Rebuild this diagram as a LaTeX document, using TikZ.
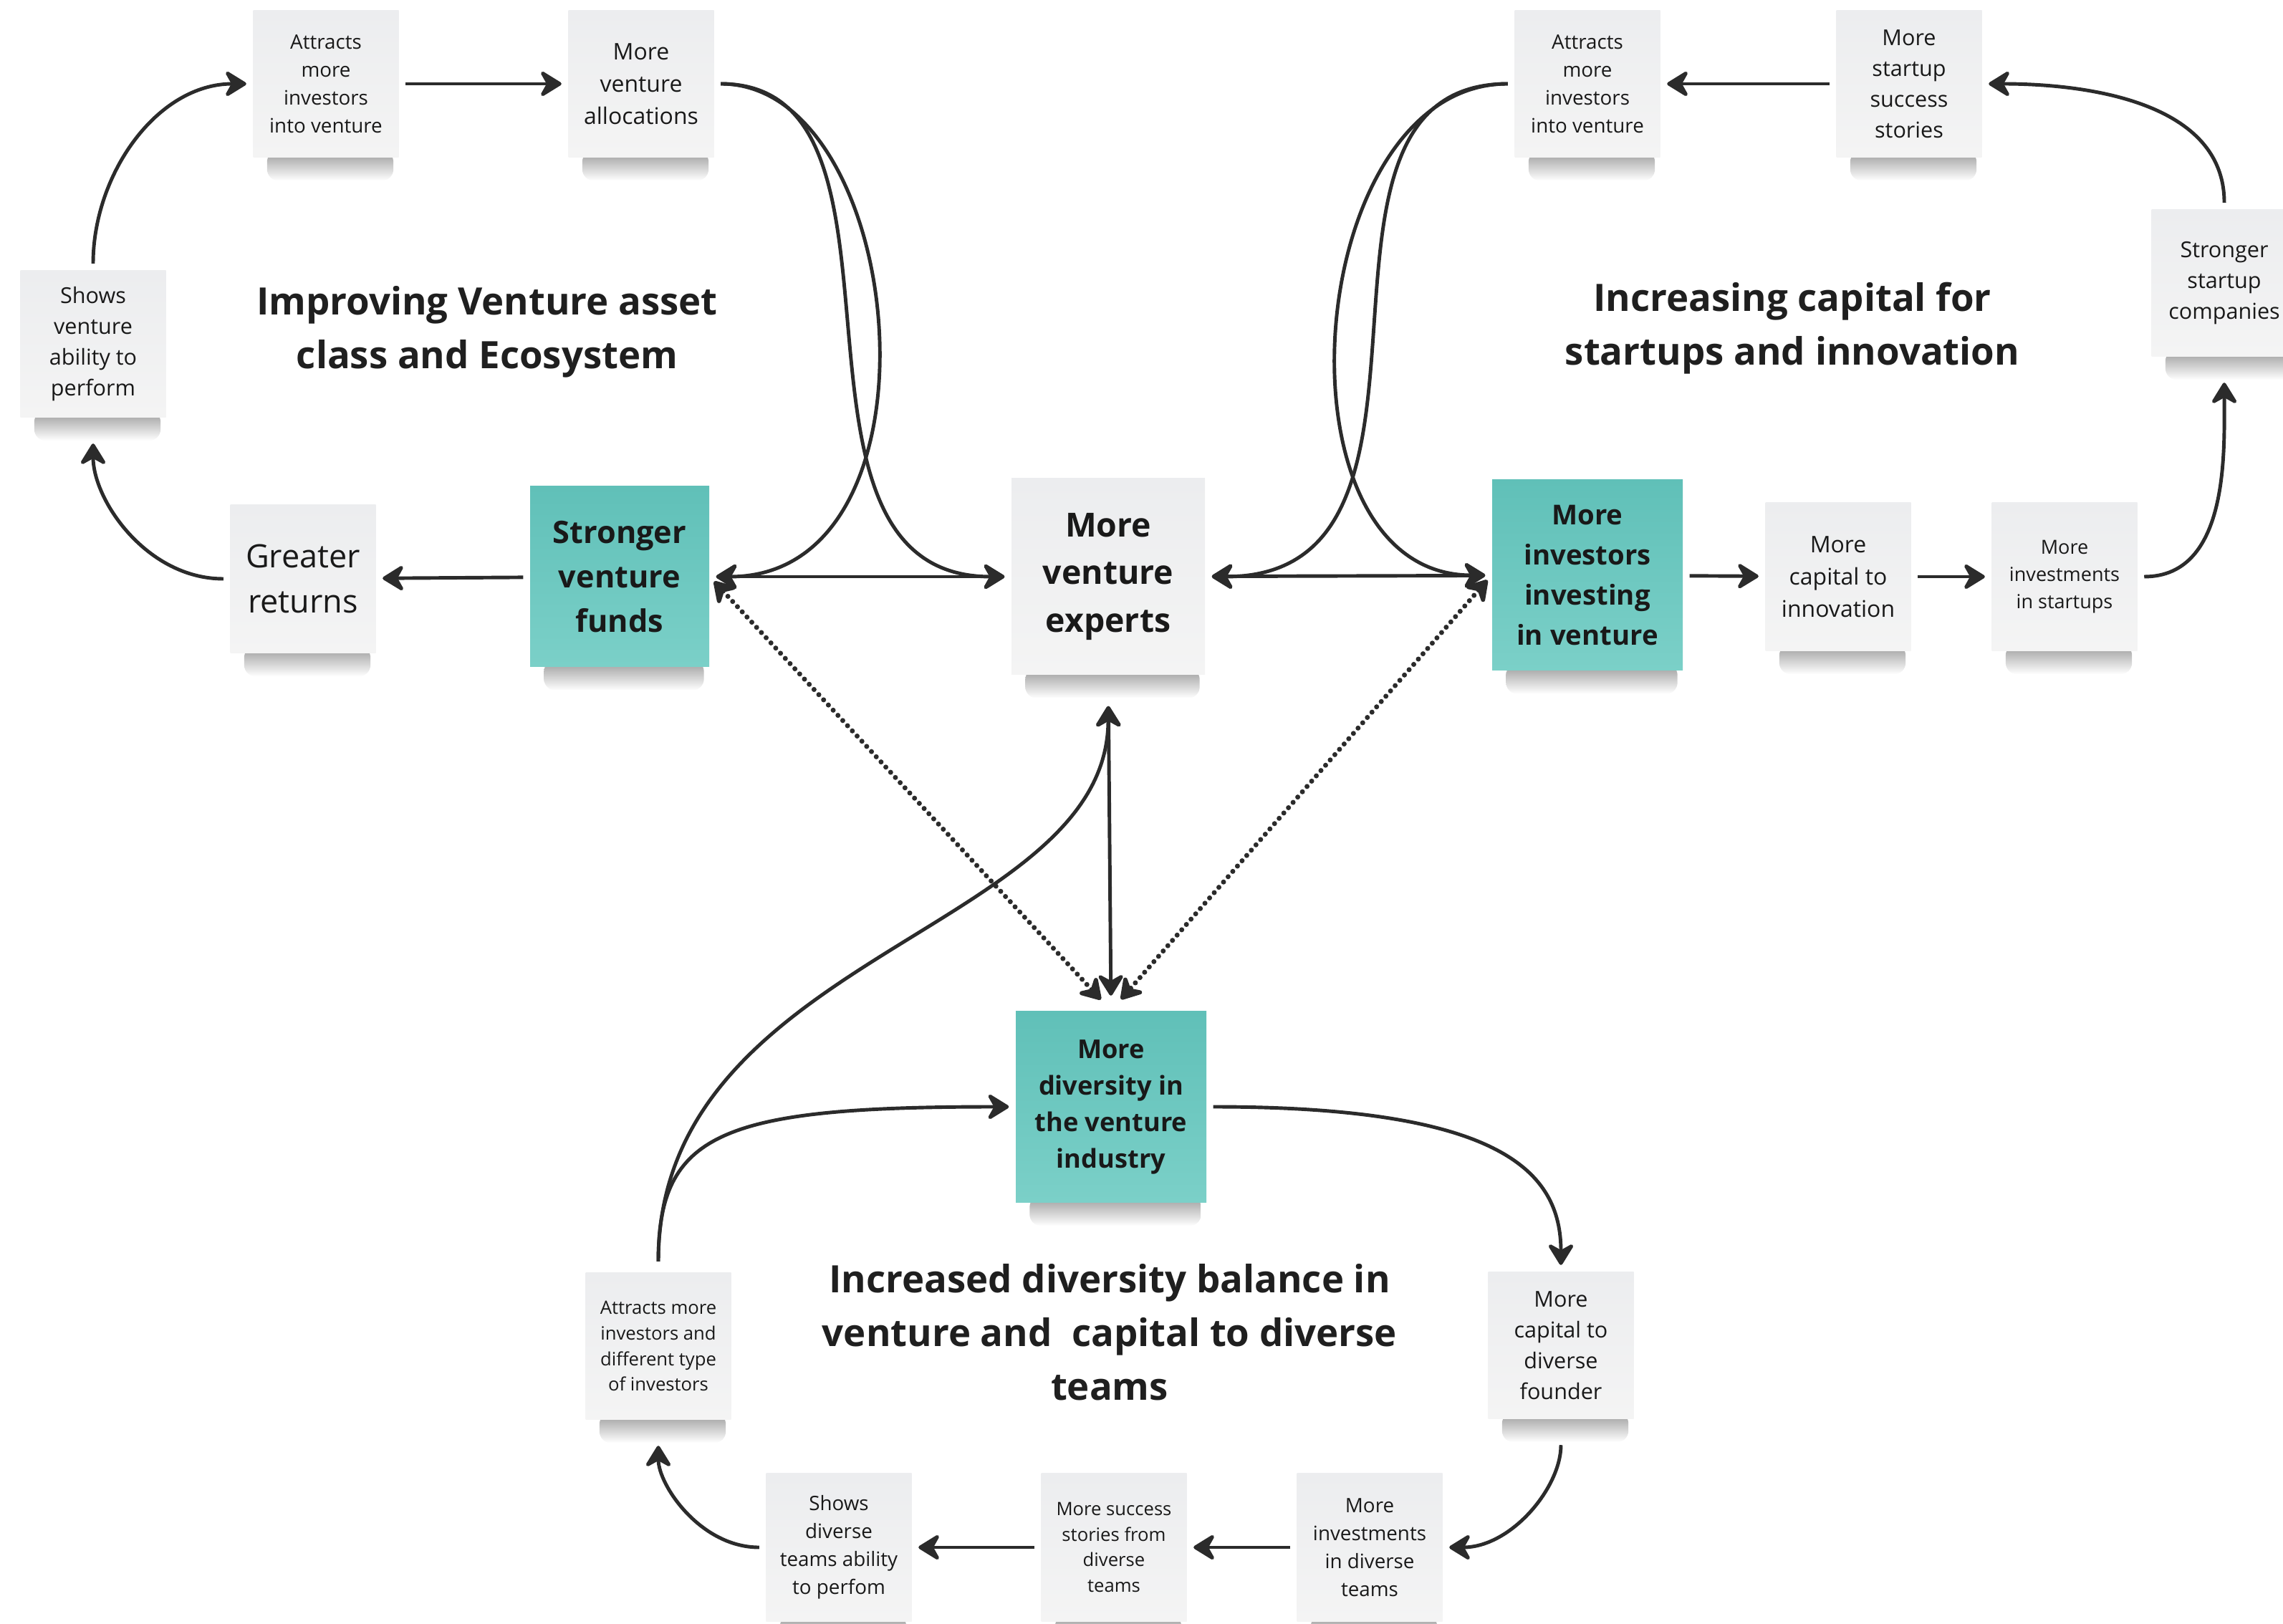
\documentclass[tikz,border=0pt]{standalone}
\usepackage{fontspec}
\setmainfont{Open Sans}
\usetikzlibrary{arrows.meta,calc}
\pgfdeclarelayer{background}
\pgfsetlayers{background,main}

\definecolor{teal1}{HTML}{60C0B8}
\definecolor{teal2}{HTML}{7BD0C8}
\definecolor{paper1}{HTML}{ECEDEF}
\definecolor{paper2}{HTML}{F4F4F4}
\definecolor{ink}{HTML}{2B2B2B}

\tikzset{
  note/.style={rectangle,top color=paper1,bottom color=paper2,minimum width=2.03cm,minimum height=2.05cm,
    align=center,inner sep=1pt,text=black!90},
  keynote/.style={note,top color=teal1,bottom color=teal2},
  fs/.style 2 args={font=\fontsize{#1}{#2}\selectfont},
  bfs/.style 2 args={font=\bfseries\fontsize{#1}{#2}\selectfont},
  heading/.style={align=center,font=\bfseries\fontsize{15}{21.3}\selectfont,text=black!88},
  link/.style={draw=ink,line width=1.4pt,shorten <=0.9mm,shorten >=0.9mm,->},
  hint/.style={draw=ink,line width=2pt,line cap=round,dash pattern=on 0pt off 2.8pt,<->,
    shorten <=0.9mm,shorten >=2.1mm}
}

\begin{document}
\begin{tikzpicture}[>={Stealth[length=3.5mm,width=4.3mm,inset=1.2mm,round]}]
  \useasboundingbox (0,0) rectangle (31.87,-22.67);

  % venture asset class loop
  \node[note,fs={7.9}{11.1}] (aTL) at (4.55,-1.17) {Attracts\\more\\investors\\into venture};
  \node[note,fs={9.1}{12.8}] (alloc) at (8.95,-1.17) {More\\venture\\allocations};
  \node[note,fs={8.7}{12.2}] (showsV) at (1.30,-4.80) {Shows\\venture\\ability to\\perform};
  \node[note,fs={12.8}{17.9},minimum height=2.07cm] (greater) at (4.23,-8.08) {Greater\\returns};
  \node[keynote,bfs={12.3}{17.6},minimum width=2.5cm,minimum height=2.52cm] (funds) at (8.65,-8.05) {Stronger\\venture\\funds};
  \node[note,bfs={13.2}{18.8},minimum width=2.7cm,minimum height=2.74cm] (experts) at (15.47,-8.05) {More\\venture\\experts};
  \node[heading] (tVenture) at (6.80,-4.63) {Improving Venture asset\\class and Ecosystem};

  % capital loop
  \node[note,fs={7.9}{11.1}] (aTR) at (22.16,-1.17) {Attracts\\more\\investors\\into venture};
  \node[note,fs={8.7}{12.2}] (stories) at (26.65,-1.17) {More\\startup\\success\\stories};
  \node[note,fs={8.7}{12.2}] (companies) at (31.05,-3.95) {Stronger\\startup\\companies};
  \node[keynote,bfs={10.9}{15.9},minimum width=2.66cm,minimum height=2.66cm] (investors) at (22.16,-8.03) {More\\investors\\investing\\in venture};
  \node[note,fs={9.1}{12.8},minimum height=2.07cm] (capInn) at (25.66,-8.05) {More\\capital to\\innovation};
  \node[note,fs={7.7}{10.9},minimum height=2.07cm] (invStart) at (28.82,-8.05) {More\\investments\\in startups};
  \node[heading] (tCapital) at (25.02,-4.58) {Increasing capital for\\startups and innovation};

  % diversity loop
  \node[keynote,bfs={10.3}{14.5},minimum width=2.66cm,minimum height=2.67cm] (diversity) at (15.51,-15.45) {More\\diversity in\\the venture\\industry};
  \node[note,fs={7.3}{10.2}] (attractsD) at (9.19,-18.79) {Attracts more\\investors and\\different type\\of investors};
  \node[note,fs={8.7}{12.2}] (founder) at (21.79,-18.78) {More\\capital to\\diverse\\founder};
  \node[note,fs={7.9}{11.1},minimum height=2.07cm] (invDiv) at (19.12,-21.60) {More\\investments\\in diverse\\teams};
  \node[note,fs={7.3}{10.2},minimum height=2.07cm] (success) at (15.55,-21.60) {More success\\stories from\\diverse\\teams};
  \node[note,fs={7.9}{11.1},minimum height=2.07cm] (showsD) at (11.71,-21.60) {Shows\\diverse\\teams ability\\to perfom};
  \node[heading] (tDiverse) at (15.49,-18.60) {Increased diversity balance in\\venture and~ capital to diverse\\teams};

  \begin{pgfonlayer}{background}
    \foreach \n in {aTL,alloc,showsV,greater,funds,experts,aTR,stories,companies,investors,capInn,invStart,diversity,attractsD,founder,invDiv,success,showsD}
      \shade[rounded corners=1.6mm,top color=black!40,middle color=black!8,bottom color=white]
        ($(\n.south west)+(0.2,0.1)$) rectangle ($(\n.south east)+(-0.08,-0.32)$);
  \end{pgfonlayer}

  \draw[link] (showsV.north) to[out=90,in=180] (aTL.west);
  \draw[link] (aTL) -- (alloc);
  \draw[link] (alloc.east) .. controls +(0:2.7) and +(0:3.4) .. (funds.east);
  \draw[link] (alloc.east) .. controls +(0:3.11) and +(180:3.58) .. (experts.west);
  \draw[link,<->] (funds) -- (experts);
  \draw[link] (funds) -- (greater);
  \draw[link,shorten >=3.6mm] (greater.west) to[out=180,in=-90] (showsV.south);

  \draw[link] (aTR.west) .. controls +(180:3.42) and +(0:3.87) .. (experts.east);
  \draw[link] (aTR.west) .. controls +(180:2.97) and +(180:3.14) .. (investors.west);
  \draw[link,<->] (experts) -- (investors);
  \draw[link] (investors) -- (capInn);
  \draw[link] (capInn) -- (invStart);
  \draw[link,shorten >=3.6mm] (invStart.east) to[out=0,in=-90] (companies.south);
  \draw[link] (companies.north) to[out=90,in=0] (stories.east);
  \draw[link] (stories) -- (aTR);

  \draw[link,<->,shorten <=4.3mm,shorten >=2.1mm] (experts.south) -- (diversity.north);
  \draw[hint] (funds.east) -- (diversity.north);
  \draw[hint] (investors.west) -- (diversity.north);
  \draw[link,shorten <=1.5mm,shorten >=4.3mm] (attractsD.north) .. controls +(90:4.45) and +(-90:3.58) .. (experts.south);
  \draw[link,shorten <=1.5mm] (attractsD.north) .. controls +(90:1.95) and +(180:4.1) .. (diversity.west);
  \draw[link] (diversity.east) .. controls +(0:4.1) and +(90:1.4) .. (founder.north);
  \draw[link,shorten <=3.6mm] (founder.south) to[out=-90,in=0] (invDiv.east);
  \draw[link] (invDiv) -- (success);
  \draw[link] (success) -- (showsD);
  \draw[link,shorten >=3.6mm] (showsD.west) to[out=180,in=-90] (attractsD.south);
\end{tikzpicture}
\end{document}
